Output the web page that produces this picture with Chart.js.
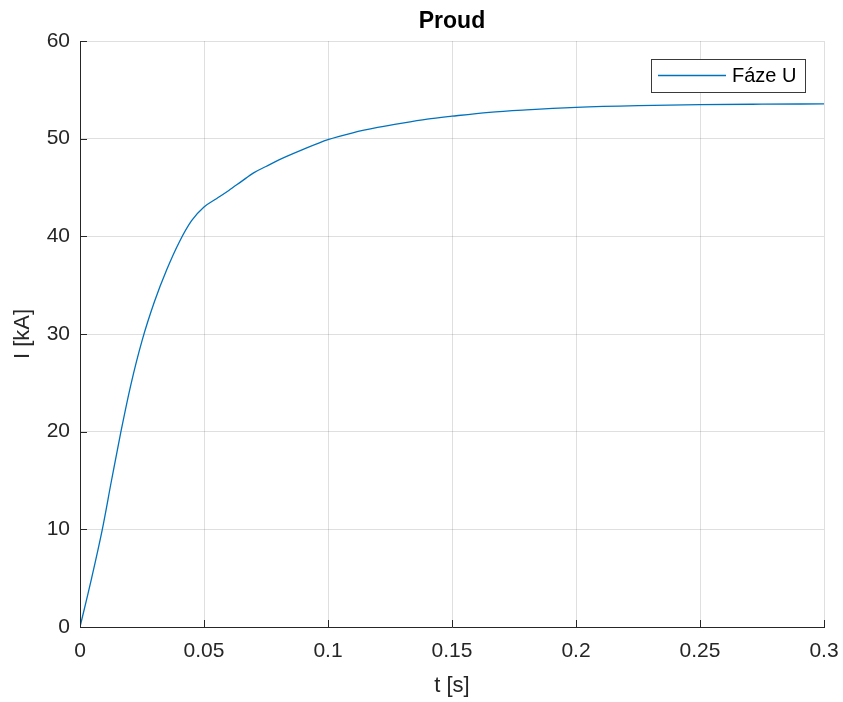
<!DOCTYPE html>
<html>
<head>
<meta charset="utf-8">
<script src="https://cdn.jsdelivr.net/npm/chart.js@4"></script>
<style>
html,body{margin:0;padding:0;background:#fff;}
#wrap{width:843px;height:702px;}
</style>
</head>
<body>
<div id="wrap"><canvas id="c" width="843" height="702"></canvas></div>
<script>
// Data
const chartTitle = "Proud";
const seriesName = "Fáze U";
const xLabel = "t [s]";
const yLabel = "I [kA]";
const timeValues = [0, 0.0045, 0.009, 0.0127, 0.0165, 0.0205, 0.025, 0.03, 0.035, 0.04, 0.045, 0.05, 0.055, 0.06, 0.065, 0.07, 0.075, 0.08, 0.09, 0.1, 0.11, 0.12, 0.13, 0.14, 0.15, 0.165, 0.18, 0.2, 0.225, 0.25, 0.275, 0.3];
const currentValues = [0, 4.8, 10, 15, 20, 24.8, 29.3, 33.3, 36.6, 39.4, 41.6, 43.0, 43.85, 44.7, 45.6, 46.5, 47.15, 47.8, 48.9, 49.9, 50.6, 51.15, 51.6, 52.0, 52.3, 52.7, 52.95, 53.2, 53.38, 53.48, 53.53, 53.56];
const xTickValues = [0, 0.05, 0.1, 0.15, 0.2, 0.25, 0.3];
const xTickLabels = ["0", "0.05", "0.1", "0.15", "0.2", "0.25", "0.3"];
const yTickValues = [0, 10, 20, 30, 40, 50, 60];
const yTickLabels = ["0", "10", "20", "30", "40", "50", "60"];

const axisColor = '#262626';
const gridColor = 'rgba(38,38,38,0.15)';
const lineColor = '#0072BD';
const FONT = '"Liberation Sans", Arial, Helvetica, sans-serif';

const points = timeValues.map((t, i) => ({x: t, y: currentValues[i]}));

const extras = {
  id: 'extras',
  afterDraw(chart) {
    const ctx = chart.ctx;
    const a = chart.chartArea;
    const xs = chart.scales.x, ys = chart.scales.y;
    ctx.save();
    // inward ticks
    ctx.strokeStyle = axisColor;
    ctx.lineWidth = 1;
    ctx.beginPath();
    xTickValues.forEach(v => {
      const px = Math.round(xs.getPixelForValue(v)) + 0.5;
      ctx.moveTo(px, a.bottom);
      ctx.lineTo(px, a.bottom - 7);
    });
    yTickValues.forEach(v => {
      const py = Math.round(ys.getPixelForValue(v)) + 0.5;
      ctx.moveTo(a.left, py);
      ctx.lineTo(a.left + 7, py);
    });
    ctx.stroke();
    // title
    ctx.fillStyle = '#000';
    ctx.font = 'bold 23px ' + FONT;
    ctx.textAlign = 'center';
    ctx.textBaseline = 'middle';
    ctx.fillText(chartTitle, (a.left + a.right) / 2, 22);
    // legend box
    const bx = 651.5, by = 59.5, bw = 154, bh = 33;
    ctx.fillStyle = '#fff';
    ctx.fillRect(bx, by, bw, bh);
    ctx.strokeStyle = '#3a3a3a';
    ctx.lineWidth = 1;
    ctx.strokeRect(bx, by, bw, bh);
    ctx.strokeStyle = lineColor;
    ctx.lineWidth = 1.3;
    ctx.beginPath();
    ctx.moveTo(658, 75.5);
    ctx.lineTo(726, 75.5);
    ctx.stroke();
    ctx.fillStyle = '#000';
    ctx.font = '20px ' + FONT;
    ctx.textAlign = 'left';
    ctx.textBaseline = 'middle';
    ctx.fillText(chart.data.datasets[0].label, 732, 76);
    ctx.restore();
  }
};

new Chart(document.getElementById('c'), {
  type: 'line',
  data: {
    datasets: [{
      label: seriesName,
      data: points,
      borderColor: lineColor,
      backgroundColor: lineColor,
      borderWidth: 1.3,
      pointRadius: 0,
      cubicInterpolationMode: 'monotone',
      fill: false
    }]
  },
  options: {
    responsive: false,
    animation: false,
    layout: {padding: {top: 41, right: 19, left: 0, bottom: 0}},
    plugins: {
      legend: {display: false},
      title: {display: false},
      tooltip: {enabled: false}
    },
    scales: {
      x: {
        type: 'linear',
        min: 0, max: 0.3,
        afterBuildTicks: s => { s.ticks = xTickValues.map(v => ({value: v})); },
        afterFit: s => { s.height = 75; s.paddingLeft = 0; s.paddingRight = 0; },
        ticks: {
          color: axisColor,
          font: {family: FONT, size: 21},
          padding: 12,
          maxRotation: 0,
          autoSkip: false,
          callback: (v) => { const i = xTickValues.findIndex(t => Math.abs(t - v) < 1e-9); return i >= 0 ? xTickLabels[i] : ''; }
        },
        grid: {color: gridColor, drawTicks: false, lineWidth: 1},
        border: {display: true, color: axisColor, width: 1},
        title: {display: true, text: xLabel, color: axisColor, font: {family: FONT, size: 22}, padding: {top: 0, bottom: 3}}
      },
      y: {
        type: 'linear',
        min: 0, max: 60,
        afterBuildTicks: s => { s.ticks = yTickValues.map(v => ({value: v})); },
        afterFit: s => { s.width = 80; s.paddingTop = 0; s.paddingBottom = 0; },
        ticks: {
          color: axisColor,
          font: {family: FONT, size: 21},
          padding: 10,
          autoSkip: false,
          callback: (v) => { const i = yTickValues.indexOf(v); return i >= 0 ? yTickLabels[i] : ''; }
        },
        grid: {color: gridColor, drawTicks: false, lineWidth: 1},
        border: {display: true, color: axisColor, width: 1},
        title: {display: true, text: yLabel, color: axisColor, font: {family: FONT, size: 22}, padding: {top: 10, bottom: 0}}
      }
    }
  },
  plugins: [extras]
});
</script>
</body>
</html>
